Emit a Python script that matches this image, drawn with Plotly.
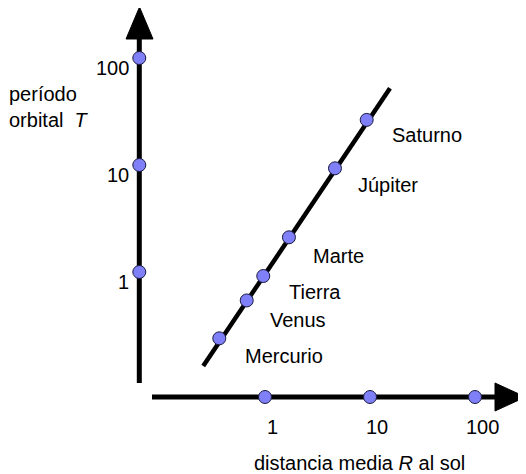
import math
import plotly.graph_objects as go

# ---- data ----
planets = ["Mercurio", "Venus", "Tierra", "Marte", "Júpiter", "Saturno"]
planet_R = [0.367, 0.67, 0.963, 1.69, 4.64, 9.30]      # distancia media R
planet_T = [0.240, 0.542, 0.917, 2.11, 9.31, 26.4]     # período orbital T
fit_R = [0.258, 15.5]
fit_T = [0.132, 52.1]
tick_vals = [1, 10, 100]
tick_text = ["1", "10", "100"]

# ---- label offsets (pixels, layout only) ----
label_dx = [24, 21, 24, 22, 21, 23]
label_dy = [18, 20, 16, 19, 17, 15]

# ---- geometry (window pixels; page body has an 8px margin) ----
OFF = 8
W, H = 526 - OFF, 474 - OFF
X0, PXX = 265 - OFF, 105     # pixel of R=1, px per decade
Y0, PXY = 272 - OFF, 107     # pixel of T=1, px per decade
xr = [-X0 / PXX, (W - X0) / PXX]
yr = [(Y0 - H) / PXY, Y0 / PXY]

YAX_PX = 139.3   # window x pixel of vertical axis
XAX_PY = 397     # window y pixel of horizontal axis
R_AT_YAXIS = 10 ** ((YAX_PX - OFF - X0) / PXX)
T_AT_XAXIS = 10 ** ((Y0 - (XAX_PY - OFF)) / PXY)

def px(x):
    return (x - OFF) / W

def py(y):
    return 1 - (y - OFF) / H

lg = math.log10

FONT = "Liberation Sans"
FS = 20
MARK = dict(size=13, color="#7f7ff7", line=dict(color="#1a1a40", width=1))

fig = go.Figure()

# fitted line
fig.add_trace(go.Scatter(x=fit_R, y=fit_T, mode="lines",
                         line=dict(color="black", width=4.5),
                         hoverinfo="skip", showlegend=False))
# planets
fig.add_trace(go.Scatter(x=planet_R, y=planet_T, mode="markers",
                         marker=MARK, text=planets, showlegend=False))
# axis tick dots
fig.add_trace(go.Scatter(x=[R_AT_YAXIS] * len(tick_vals), y=tick_vals,
                         mode="markers", marker=MARK, showlegend=False))
fig.add_trace(go.Scatter(x=tick_vals, y=[T_AT_XAXIS] * len(tick_vals),
                         mode="markers", marker=MARK, showlegend=False))

shapes = [
    dict(type="line", xref="paper", yref="paper", layer="below",
         x0=px(YAX_PX), x1=px(YAX_PX), y0=py(383), y1=py(36),
         line=dict(color="black", width=5)),
    dict(type="line", xref="paper", yref="paper", layer="below",
         x0=px(152), x1=px(497), y0=py(XAX_PY), y1=py(XAX_PY),
         line=dict(color="black", width=5)),
    dict(type="path", xref="paper", yref="paper", layer="below",
         path=f"M {px(126)} {py(39)} L {px(153)} {py(39)} L {px(139.5)} {py(7)} Z",
         fillcolor="black", line=dict(color="black", width=1)),
    dict(type="path", xref="paper", yref="paper", layer="below",
         path=f"M {px(495)} {py(383)} L {px(495)} {py(411)} L {px(525.5)} {py(397)} Z",
         fillcolor="black", line=dict(color="black", width=1)),
]

ann = []
for name, r, t, dx, dy in zip(planets, planet_R, planet_T, label_dx, label_dy):
    ann.append(dict(x=lg(r), y=lg(t), xref="x", yref="y", text=name, showarrow=False,
                    xanchor="left", yanchor="middle", xshift=dx, yshift=-dy,
                    font=dict(family=FONT, size=FS, color="black")))
for v, s in zip(tick_vals, tick_text):
    ann.append(dict(x=lg(R_AT_YAXIS), y=lg(v), xref="x", yref="y", text=s,
                    showarrow=False, xanchor="right", yanchor="middle",
                    xshift=-8, yshift=-10,
                    font=dict(family=FONT, size=FS, color="black")))
    ann.append(dict(x=lg(v), y=lg(T_AT_XAXIS), xref="x", yref="y", text=s,
                    showarrow=False, xanchor="center", yanchor="middle",
                    xshift=7, yshift=-30,
                    font=dict(family=FONT, size=FS, color="black")))
ann.append(dict(x=px(359), y=py(463), xref="paper", yref="paper",
                text="distancia media <i>R</i> al sol", showarrow=False,
                xanchor="center", yanchor="middle",
                font=dict(family=FONT, size=FS, color="black")))
ann.append(dict(x=px(7), y=py(107), xref="paper", yref="paper",
                text="período<br>orbital  <i>T</i>", showarrow=False, align="left",
                xanchor="left", yanchor="middle",
                font=dict(family=FONT, size=FS, color="black")))

fig.update_layout(
    width=W, height=H, margin=dict(l=0, r=0, t=0, b=0),
    paper_bgcolor="white", plot_bgcolor="white",
    xaxis=dict(type="log", range=xr, visible=False, fixedrange=True),
    yaxis=dict(type="log", range=yr, visible=False, fixedrange=True),
    shapes=shapes, annotations=ann, showlegend=False,
)

fig.write_html("out.html")
